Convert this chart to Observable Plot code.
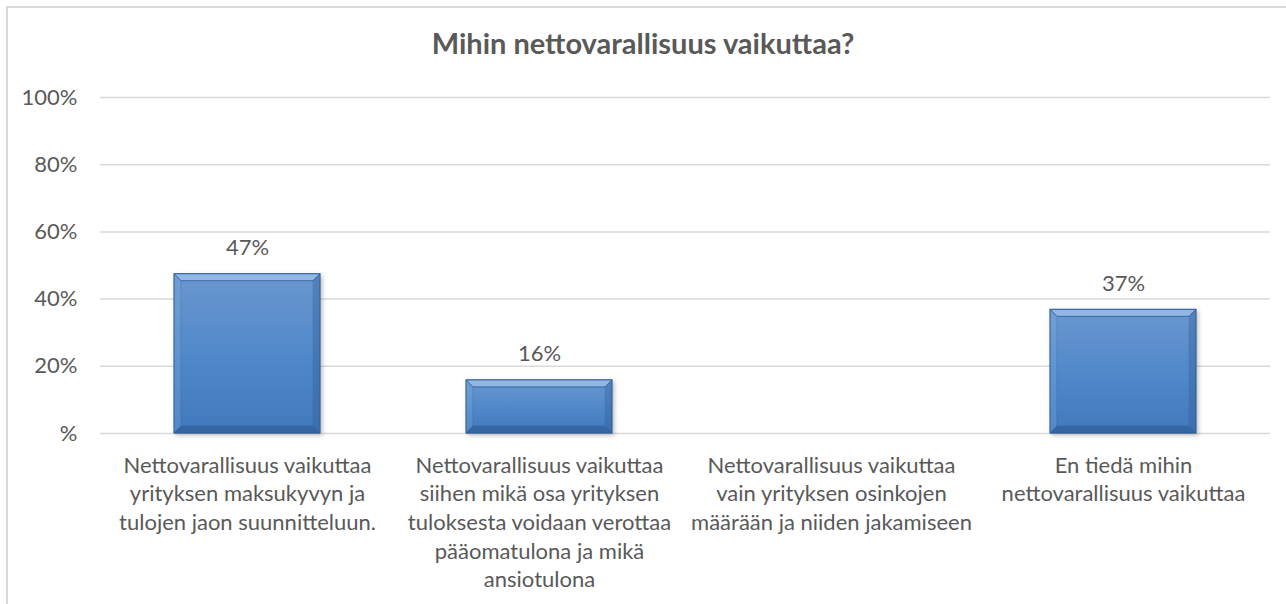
<!DOCTYPE html>
<html>
<head>
<meta charset="utf-8">
<script src="https://cdn.jsdelivr.net/npm/d3@7"></script>
<script src="https://cdn.jsdelivr.net/npm/@observablehq/plot@0.6"></script>
<style>
  html, body { margin: 0; padding: 0; background: #fff; overflow: hidden; }
  body { width: 1286px; height: 604px; position: relative; font-family: Lato, "Open Sans", sans-serif; }
  #frame { position: absolute; left: 6px; top: 6px; width: 1320px; height: 640px; border: 2px solid #d9d9d9; box-sizing: border-box; }
  #title { position: absolute; left: 0; top: 25px; width: 1286px; text-align: center; font: bold 29px Lato, sans-serif; color: #595959; line-height: 36px; }
  #chart { position: absolute; left: 0; top: 70px; }
</style>
</head>
<body>
<div id="frame"></div>
<div id="title">Mihin nettovarallisuus vaikuttaa?</div>
<div id="chart"></div>
<script>
const categories = ["c1", "c2", "c3", "c4"];
const categoryLabels = [
  "Nettovarallisuus vaikuttaa\nyrityksen maksukyvyn ja\ntulojen jaon suunnitteluun.",
  "Nettovarallisuus vaikuttaa\nsiihen mikä osa yrityksen\ntuloksesta voidaan verottaa\npääomatulona ja mikä\nansiotulona",
  "Nettovarallisuus vaikuttaa\nvain yrityksen osinkojen\nmäärään ja niiden jakamiseen",
  "En tiedä mihin\nnettovarallisuus vaikuttaa"
];
const values = [47.4, 15.8, 0, 36.8];
const valueLabels = ["47%", "16%", "", "37%"];
const yTicks = [0, 20, 40, 60, 80, 100];

const data = categories.map((c, i) => ({cat: c, value: values[i], label: valueLabels[i]}));
const labelOf = new Map(categories.map((c, i) => [c, categoryLabels[i]]));

const plot = Plot.plot({
  width: 1286,
  height: 534,
  marginLeft: 100,
  marginRight: 16,
  marginTop: 27,
  marginBottom: 171,
  style: {fontFamily: "Lato, 'Open Sans', sans-serif", fontSize: "22px", color: "#595959", background: "transparent"},
  x: {domain: categories, paddingInner: 0.5, paddingOuter: 0.25, label: null},
  y: {domain: [0, 100], label: null},
  marks: [
    Plot.ruleY(yTicks, {stroke: "#d9d9d9", strokeWidth: 1.5}),
    Plot.axisY({ticks: yTicks, tickSize: 0, tickPadding: 23, tickFormat: d => d === 0 ? "%" : d + "%", fontSize: 22, fill: "#595959", label: null}),
    Plot.axisX({tickSize: 0, tickPadding: 19, tickFormat: d => labelOf.get(d), fontSize: 22, lineHeight: 1.3, fill: "#595959", label: null}),
    Plot.barY(data.filter(d => d.value > 0), {x: "cat", y: "value", fill: "url(#barGrad)", stroke: "#2f5f98", strokeWidth: 1, className: "bars"}),
    Plot.text(data, {x: "cat", y: "value", text: "label", dy: -26, fill: "#595959", fontSize: 22})
  ]
});

// gradient & shadow definitions
const svg = d3.select(plot);
const defs = svg.insert("defs", ":first-child");
const g = defs.append("linearGradient").attr("id", "barGrad").attr("x1", 0).attr("y1", 0).attr("x2", 0).attr("y2", 1);
g.append("stop").attr("offset", "0%").attr("stop-color", "#6b97cf");
g.append("stop").attr("offset", "50%").attr("stop-color", "#5189ca");
g.append("stop").attr("offset", "100%").attr("stop-color", "#4179bd");
const f = defs.append("filter").attr("id", "shadow").attr("x", "-10%").attr("y", "-10%").attr("width", "130%").attr("height", "130%");
f.append("feDropShadow").attr("dx", 2).attr("dy", 2).attr("stdDeviation", 2).attr("flood-color", "#000").attr("flood-opacity", 0.25);
svg.selectAll("g.bars rect").attr("filter", "url(#shadow)");
// bevel highlights on each bar
svg.selectAll("g.bars rect").each(function() {
  const r = d3.select(this);
  const x = +r.attr("x"), y = +r.attr("y"), w = +r.attr("width"), h = +r.attr("height");
  const p = d3.select(this.parentNode);
  const b = Math.min(7, h / 3);
  p.append("polygon").attr("points", `${x},${y} ${x + w},${y} ${x + w - b},${y + b} ${x + b},${y + b}`).attr("fill", "#9dc0ea").attr("opacity", 0.8);
  p.append("polygon").attr("points", `${x},${y + h} ${x + w},${y + h} ${x + w - b},${y + h - b} ${x + b},${y + h - b}`).attr("fill", "#2c5a91").attr("opacity", 0.6);
  p.append("polygon").attr("points", `${x + w},${y} ${x + w},${y + h} ${x + w - b},${y + h - b} ${x + w - b},${y + b}`).attr("fill", "#2c5a91").attr("opacity", 0.35);
  p.append("polygon").attr("points", `${x},${y} ${x},${y + h} ${x + b},${y + h - b} ${x + b},${y + b}`).attr("fill", "#8fb4e3").attr("opacity", 0.25);
});
document.getElementById("chart").appendChild(plot);
</script>
</body>
</html>
